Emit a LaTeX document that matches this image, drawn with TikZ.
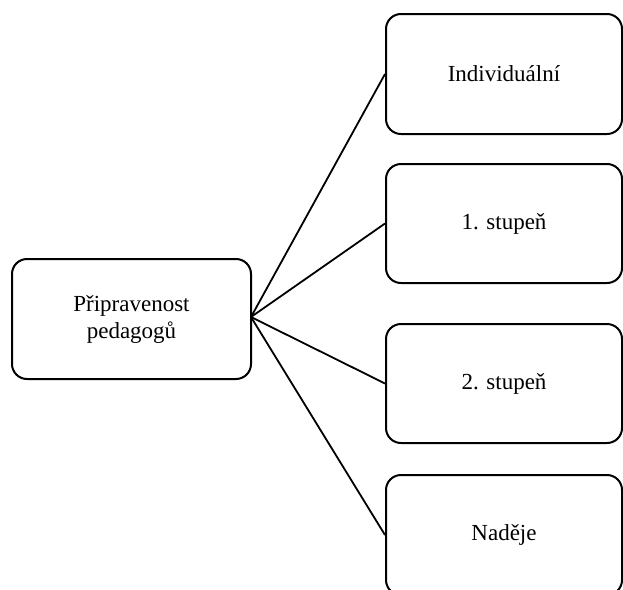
\documentclass[tikz,border=0pt]{standalone}
\usepackage{fontspec}
\setmainfont{Liberation Serif}
\begin{document}
\begin{tikzpicture}[x=1pt,y=-1pt,
  box/.style={draw=black, line width=2pt, rounded corners=15pt, align=center,
    font=\fontsize{23}{27}\selectfont, inner sep=0pt},
  conn/.style={draw=black, line width=1.8pt}]
\useasboundingbox (0,0) rectangle (623,589);
\clip (0,0) rectangle (623,589);
\node[box, minimum width=239pt, minimum height=120pt] (p) at (131.5,319) {Připravenost\\pedagogů};
\node[box, minimum width=236pt, minimum height=120pt] (a) at (504,74) {Individuální};
\node[box, minimum width=236pt, minimum height=119pt] (b) at (504,223.5) {1. stupeň};
\node[box, minimum width=236pt, minimum height=119pt] (c) at (504,383.5) {2. stupeň};
\node[box, minimum width=236pt, minimum height=120pt] (d) at (504,535) {Naděje};
\coordinate (o) at (251,317);
\draw[conn] (o) -- (a.west);
\draw[conn] (o) -- (b.west);
\draw[conn] (o) -- (c.west);
\draw[conn] (o) -- (d.west);
\end{tikzpicture}
\end{document}
